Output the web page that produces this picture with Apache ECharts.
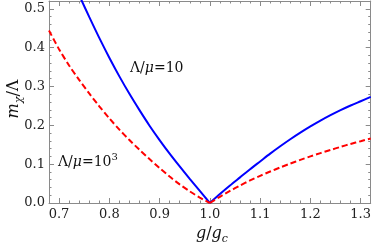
<!DOCTYPE html>
<html><head><meta charset="utf-8">
<script src="https://cdn.jsdelivr.net/npm/echarts@6/dist/echarts.min.js"></script>
<style>html,body{margin:0;padding:0;background:#fff}#c{width:374px;height:246px}</style>
</head><body><div id="c"></div>
<script>
// Λ/μ = 10 (blue, solid)
const gBlue = [0.74,0.76,0.78,0.80,0.82,0.84,0.86,0.88,0.90,0.92,0.94,0.96,0.98,1.00,1.02,1.04,1.06,1.08,1.10,1.12,1.14,1.16,1.18,1.20,1.22,1.24,1.26,1.28,1.30,1.32];
const mBlue = [0.535,0.479,0.425,0.374,0.326,0.281,0.239,0.199,0.162,0.127,0.094,0.062,0.031,0.000,0.023,0.045,0.066,0.087,0.107,0.127,0.146,0.164,0.181,0.197,0.212,0.226,0.239,0.251,0.262,0.273];
// Λ/μ = 10^3 (red, dashed)
const gRed = [0.68,0.70,0.72,0.74,0.76,0.78,0.80,0.82,0.84,0.86,0.88,0.90,0.92,0.94,0.96,0.98,1.00,1.02,1.04,1.06,1.08,1.10,1.12,1.14,1.16,1.18,1.20,1.22,1.24,1.26,1.28,1.30,1.32];
const mRed = [0.444,0.396,0.354,0.317,0.282,0.249,0.218,0.189,0.162,0.137,0.113,0.090,0.068,0.048,0.030,0.014,0.000,0.016,0.031,0.045,0.058,0.070,0.081,0.0915,0.1015,0.111,0.120,0.1285,0.1365,0.1445,0.152,0.159,0.166];
const xTicks = [0.7,0.8,0.9,1.0,1.1,1.2,1.3];
const yTicks = [0.0,0.1,0.2,0.3,0.4,0.5];
const xMin = 0.68, xMax = 1.32, yMin = 0, yMax = 0.52;
const gCrit = 1.0;

function minorVals(lo, hi, step, majors){
  const out=[];
  for(let v=Math.ceil(lo/step-1e-9)*step; v<=hi+1e-9; v+=step){
    const r=Math.round(v*1000)/1000;
    if(!majors.some(m=>Math.abs(m-r)<1e-6)) out.push(r);
  }
  return out;
}
const xMinor = minorVals(xMin,xMax,0.02,xTicks);
const yMinor = minorVals(yMin,yMax,0.02,yTicks);

const frame = '#8a8a8a';
const font = 'DejaVu Serif';

function ax(pos, ticks, len, labels, line){
  const isX = pos==='bottom'||pos==='top';
  return {
    type:'value', position:pos, min: isX?xMin:yMin, max: isX?xMax:yMax,
    axisLine:{show:line, onZero:false, lineStyle:{color:frame,width:1}},
    axisTick:{show:true, inside:true, length:len, customValues:ticks, lineStyle:{color:frame,width:1}},
    axisLabel:{show:labels, customValues:ticks, color:'#222', fontFamily:font, fontSize:13, margin:isX?5:4,
      formatter:v=>Number(v).toFixed(1)},
    splitLine:{show:false}
  };
}
function branch(gs, ms, left){
  const out=[];
  gs.forEach((g,i)=>{ if(left ? g<=gCrit+1e-9 : g>=gCrit-1e-9) out.push([g,ms[i]]); });
  return out;
}
function line(data, color, type){
  return {type:'line', xAxisIndex:0, yAxisIndex:0, data, showSymbol:false, smooth:0.3, clip:true,
    lineStyle:{color, width:2, type, cap:'butt'}};
}

const chart = echarts.init(document.getElementById('c'), null, {renderer:'canvas'});
const T = '#111';
chart.setOption({
  animation:false,
  backgroundColor:'#fff',
  grid:{left:49, right:1, top:1, bottom:43, containLabel:false},
  xAxis:[ax('bottom',xTicks,5,true,true), ax('bottom',xMinor,2.5,false,false), ax('top',xTicks,5,false,true), ax('top',xMinor,2.5,false,false)],
  yAxis:[ax('left',yTicks,5,true,true), ax('left',yMinor,2.5,false,false), ax('right',yTicks,5,false,true), ax('right',yMinor,2.5,false,false)],
  series:[
    line(branch(gBlue,mBlue,true),'#0000ff','solid'),
    line(branch(gBlue,mBlue,false),'#0000ff','solid'),
    line(branch(gRed,mRed,true),'#ff0000',[6,3]),
    line(branch(gRed,mRed,false),'#ff0000',[6,3])
  ],
  graphic:[
    {type:'text', left:130, top:61, style:{text:'Λ/{i|μ}=10', fontFamily:font, fontSize:14, fill:T,
      rich:{i:{fontStyle:'italic', fontFamily:font, fontSize:14, fill:T}}}},
    {type:'text', left:58, top:152, style:{text:'Λ/{i|μ}=10{s|3}', fontFamily:font, fontSize:14, fill:T,
      rich:{i:{fontStyle:'italic', fontFamily:font, fontSize:14, fill:T, lineHeight:20},
            s:{fontFamily:font, fontSize:10, fill:T, verticalAlign:'top', lineHeight:20}}}},
    {type:'text', x:212, y:234, style:{text:'{i|g}/{i|g}{s|c}', textAlign:'center', textVerticalAlign:'middle', fontFamily:font, fontSize:16, fill:T,
      rich:{i:{fontStyle:'italic', fontFamily:font, fontSize:16, fill:T, lineHeight:21},
            s:{fontStyle:'italic', fontFamily:font, fontSize:11, fill:T, verticalAlign:'bottom', lineHeight:21}}}},
    {type:'text', x:14, y:99, rotation:Math.PI/2, style:{text:'{i|m}{s|χ}/Λ', textAlign:'center', textVerticalAlign:'middle', fontFamily:font, fontSize:16, fill:T,
      rich:{i:{fontStyle:'italic', fontFamily:font, fontSize:16, fill:T, lineHeight:21},
            s:{fontStyle:'italic', fontFamily:font, fontSize:11, fill:T, verticalAlign:'bottom', lineHeight:21}}}}
  ]
});
</script></body></html>
